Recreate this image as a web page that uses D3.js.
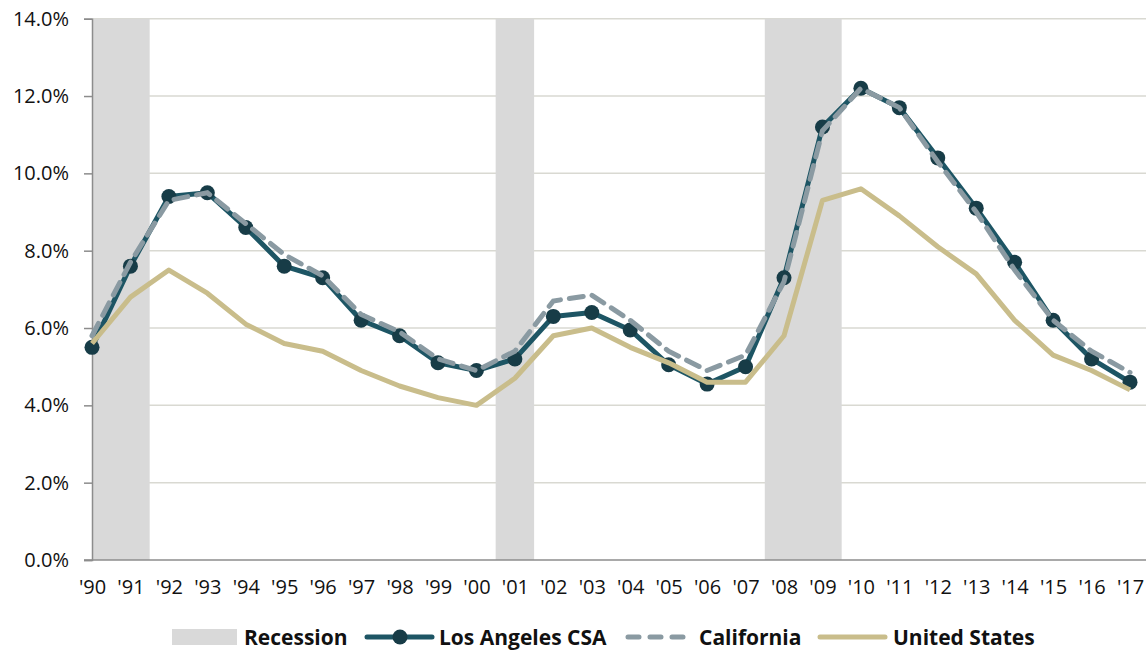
<!DOCTYPE html>
<html><head><meta charset="utf-8">
<script src="https://cdn.jsdelivr.net/npm/d3@7"></script>
<style>body{margin:0;background:#fff}svg{display:block}</style>
</head><body>
<svg id="c" width="1146" height="650"></svg>
<script>
const years = ["'90","'91","'92","'93","'94","'95","'96","'97","'98","'99","'00","'01","'02","'03","'04","'05","'06","'07","'08","'09","'10","'11","'12","'13","'14","'15","'16","'17"];
const laCSA = [5.5,7.6,9.4,9.5,8.6,7.6,7.3,6.2,5.8,5.1,4.9,5.2,6.3,6.4,5.95,5.05,4.55,5.0,7.3,11.2,12.2,11.7,10.4,9.1,7.7,6.2,5.2,4.6];
const california = [5.8,7.7,9.3,9.5,8.7,7.9,7.35,6.35,5.9,5.2,4.9,5.4,6.7,6.85,6.2,5.4,4.9,5.3,7.2,11.1,12.2,11.7,10.3,9.0,7.5,6.2,5.4,4.85];
const unitedStates = [5.6,6.8,7.5,6.9,6.1,5.6,5.4,4.9,4.5,4.2,4.0,4.7,5.8,6.0,5.5,5.1,4.6,4.6,5.8,9.3,9.6,8.9,8.1,7.4,6.2,5.3,4.9,4.4];
// recession periods as [start index, end index] on the year axis
const recessions = [[0,1.5],[10.5,11.5],[17.5,19.5]];
const yTicks = [0,2,4,6,8,10,12,14];
const legendItems = ["Recession","Los Angeles CSA","California","United States"];

const svg = d3.select("#c");
const font = "'Open Sans', sans-serif";
const x0 = 92, x1 = 1130;
const xi = d3.scaleLinear().domain([0, years.length-1]).range([x0, x1]);
const y = d3.scaleLinear().domain([0,14]).range([560, 18.7]);

// gridlines
svg.append("g").selectAll("line").data(yTicks.filter(d=>d>0)).join("line")
  .attr("x1", x0).attr("x2", 1146).attr("y1", d=>y(d)).attr("y2", d=>y(d))
  .attr("stroke", "#d9d9d2").attr("stroke-width", 1.5);

// recession bands
svg.append("g").selectAll("rect").data(recessions).join("rect")
  .attr("x", d=>xi(d[0])).attr("width", d=>xi(d[1])-xi(d[0]))
  .attr("y", y(14)).attr("height", y(0)-y(14))
  .attr("fill", "#d9d9d9");

// y axis
const yAxis = svg.append("g").attr("transform", `translate(${x0},0)`)
  .call(d3.axisLeft(y).tickValues(yTicks).tickFormat(d=>d.toFixed(1)+"%").tickSize(8).tickPadding(15));
yAxis.select(".domain").attr("stroke", "#8c8c8c").attr("stroke-width", 1.5);
yAxis.selectAll(".tick line").attr("stroke", "#8c8c8c").attr("stroke-width", 1.5);
yAxis.selectAll("text").attr("font-family", font).attr("font-size", 20).attr("fill", "#111");

// x axis baseline
const xAxis = svg.append("g").attr("transform", `translate(0,${y(0)})`)
  .call(d3.axisBottom(xi).tickValues(d3.range(years.length)).tickFormat(i=>years[i]).tickSize(0).tickPadding(20));
xAxis.select(".domain").attr("stroke", "#8c8c8c").attr("stroke-width", 1.5).attr("d", `M${x0-8},0H1146`);
xAxis.selectAll("text").attr("font-family", font).attr("font-size", 20).attr("fill", "#111");

const line = d3.line().x((d,i)=>xi(i)).y(d=>y(d));

// LA CSA
svg.append("path").datum(laCSA).attr("d", line).attr("fill","none")
  .attr("stroke", "#1d5564").attr("stroke-width", 5).attr("stroke-linejoin","round");
svg.append("g").selectAll("circle").data(laCSA).join("circle")
  .attr("cx", (d,i)=>xi(i)).attr("cy", d=>y(d)).attr("r", 7.5).attr("fill", "#173c47");

// California
svg.append("path").datum(california).attr("d", line).attr("fill","none")
  .attr("stroke", "#8a9aa2").attr("stroke-width", 5).attr("stroke-dasharray","14,9").attr("stroke-linecap","round");

// United States
svg.append("path").datum(unitedStates).attr("d", line).attr("fill","none")
  .attr("stroke", "#c9bd8b").attr("stroke-width", 5).attr("stroke-linejoin","round");

// legend
const ly = 637;
const lg = svg.append("g").attr("font-family", font).attr("font-size", 21).attr("font-weight", "bold").attr("fill", "#111");
lg.append("rect").attr("x", 172).attr("y", ly-8).attr("width", 65).attr("height", 16).attr("fill", "#d9d9d9");
lg.append("text").attr("x", 244).attr("y", ly+7.5).text(legendItems[0]);
lg.append("line").attr("x1", 367).attr("x2", 432).attr("y1", ly).attr("y2", ly).attr("stroke","#1d5564").attr("stroke-width",5).attr("stroke-linecap","round");
lg.append("circle").attr("cx", 400).attr("cy", ly).attr("r", 7.5).attr("fill", "#173c47");
lg.append("text").attr("x", 439).attr("y", ly+7.5).text(legendItems[1]);
lg.append("line").attr("x1", 628).attr("x2", 686).attr("y1", ly).attr("y2", ly).attr("stroke","#8a9aa2").attr("stroke-width",5).attr("stroke-dasharray","11,11").attr("stroke-linecap","round");
lg.append("text").attr("x", 699).attr("y", ly+7.5).text(legendItems[2]);
lg.append("line").attr("x1", 820).attr("x2", 885).attr("y1", ly).attr("y2", ly).attr("stroke","#c9bd8b").attr("stroke-width",5).attr("stroke-linecap","round");
lg.append("text").attr("x", 893).attr("y", ly+7.5).text(legendItems[3]);
</script>
</body></html>
